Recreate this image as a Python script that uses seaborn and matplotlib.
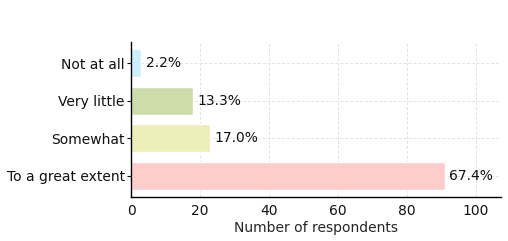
import matplotlib
matplotlib.use("Agg")
import matplotlib.pyplot as plt
import seaborn as sns
import pandas as pd

categories = ["Not at all", "Very little", "Somewhat", "To a great extent"]
counts = [3, 18, 23, 91]
percent_labels = ["2.2%", "13.3%", "17.0%", "67.4%"]
colors = ["#CCEEFF", "#CCDDAA", "#EEEEBB", "#FFCCCC"]

sns.set_style("white")
plt.rcParams['font.family'] = ['DejaVu Sans']

df = pd.DataFrame({"category": categories, "count": counts})

fig = plt.figure(figsize=(5.08, 2.41), dpi=100)
ax = fig.add_axes([0.258, 0.183, 0.728, 0.643])
sns.barplot(data=df, y="category", x="count", hue="category", order=categories,
            palette=colors, width=0.75, legend=False, ax=ax, saturation=1)
ax.set_axisbelow(True)
ax.grid(True, linestyle=(0, (3, 2)), color="#e2e2e2", linewidth=0.7)
ax.set_xlim(0, 107.3)
ax.set_ylim(3.5625, -0.5625)
for i, (c, lab) in enumerate(zip(counts, percent_labels)):
    ax.text(c + 1.2, i, lab, va="center", ha="left", fontsize=10, color="#111111")
ax.set_xticks([0, 20, 40, 60, 80, 100])
ax.set_xlabel("Number of respondents", fontsize=10, labelpad=2)
ax.set_ylabel("")
ax.tick_params(axis="y", labelsize=10, length=3, width=0.8, pad=1.5, left=True, colors="#111111")
ax.tick_params(axis="x", labelsize=10, length=0, pad=5, bottom=True, colors="#111111")
for s in ["top", "right"]:
    ax.spines[s].set_visible(False)
for s in ["left", "bottom"]:
    ax.spines[s].set_color("#000000")
    ax.spines[s].set_linewidth(1.0)
fig.savefig("out.png", dpi=100)
